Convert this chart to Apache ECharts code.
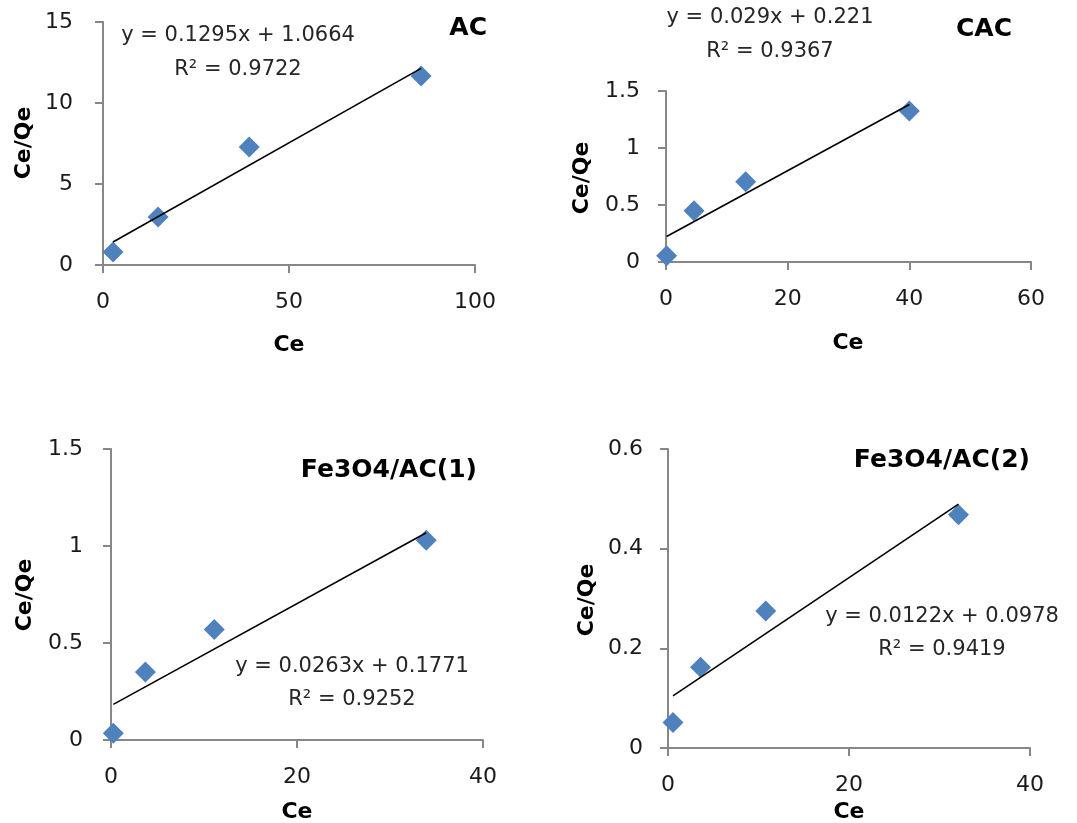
<!DOCTYPE html>
<html>
<head>
<meta charset="utf-8">
<title>Ce/Qe vs Ce</title>
<script src="https://cdn.jsdelivr.net/npm/echarts@6.0.0/dist/echarts.min.js"></script>
<style>
  html, body { margin: 0; padding: 0; background: #fff; }
  #chart { width: 1077px; height: 823px; }
</style>
</head>
<body>
<div id="chart"></div>
<script>
// --- data ---
const acCe = [2.7, 14.8, 39.3, 85.5];
const acRatio = [0.80, 2.96, 7.28, 11.67];

const cacCe = [0.1, 4.6, 13.1, 40.0];
const cacRatio = [0.055, 0.45, 0.705, 1.325];

const fe1Ce = [0.25, 3.7, 11.1, 33.9];
const fe1Ratio = [0.035, 0.35, 0.57, 1.03];

const fe2Ce = [0.55, 3.6, 10.8, 32.1];
const fe2Ratio = [0.051, 0.162, 0.275, 0.468];

// trendline equations printed on each panel: [slope, intercept]
const acFit = [0.1295, 1.0664];
const cacFit = [0.029, 0.221];
const fe1Fit = [0.0263, 0.1771];
const fe2Fit = [0.0122, 0.0978];

const panelNames = ['AC', 'CAC', 'Fe3O4/AC(1)', 'Fe3O4/AC(2)'];
const fitTexts = [
    ['y = 0.1295x + 1.0664', 'R\u00b2 = 0.9722'],
    ['y = 0.029x + 0.221', 'R\u00b2 = 0.9367'],
    ['y = 0.0263x + 0.1771', 'R\u00b2 = 0.9252'],
    ['y = 0.0122x + 0.0978', 'R\u00b2 = 0.9419']
];
const xMax = [100, 60, 40, 40];
const xStep = [50, 20, 20, 20];
const yMax = [15, 1.5, 1.5, 0.6];
const yStep = [5, 0.5, 0.5, 0.2];

const FONT = '"DejaVu Sans", sans-serif';
const AXIS_GRAY = '#878787';
const BLUE = '#4F81BD';

// panel layout (pixels)
const grids = [
    { left: 103, top: 22, width: 372, height: 243 },
    { left: 666, top: 91, width: 365, height: 171 },
    { left: 111, top: 449, width: 372, height: 291 },
    { left: 668, top: 449, width: 362, height: 299 }
];
const yLabelMargin = [30, 26, 28, 25];

// text positions: equation centre, panel name (right edge), axis names
const eqPos = [[238, 36, 70], [770, 18, 52], [352, 667, 700], [942, 617, 650]];
const namePos = [[487, 28], [1012, 29], [477, 470], [1030, 460]];
const yNamePos = [[24, 143], [582, 178], [25, 595], [587, 600]];
const xNamePos = [[289, 345], [848, 343], [297, 812], [849, 812]];

function pairs(xs, ys) {
    return xs.map((x, i) => [x, ys[i]]);
}

function fitLine(xs, fit) {
    const lo = Math.min(...xs), hi = Math.max(...xs);
    return [[lo, fit[0] * lo + fit[1]], [hi, fit[0] * hi + fit[1]]];
}

const sets = [
    [acCe, acRatio, acFit],
    [cacCe, cacRatio, cacFit],
    [fe1Ce, fe1Ratio, fe1Fit],
    [fe2Ce, fe2Ratio, fe2Fit]
];

const xAxes = [], yAxes = [], series = [], graphics = [];

sets.forEach(([xs, ys, fit], i) => {
    xAxes.push({
        type: 'value', gridIndex: i, min: 0, max: xMax[i], interval: xStep[i],
        axisLine: { lineStyle: { color: AXIS_GRAY, width: 2 } },
        axisTick: { show: true, length: 8, lineStyle: { color: AXIS_GRAY, width: 2 } },
        axisLabel: { margin: 26, color: '#1a1a1a', fontSize: 22, fontFamily: FONT },
        splitLine: { show: false }
    });
    yAxes.push({
        type: 'value', gridIndex: i, min: 0, max: yMax[i], interval: yStep[i],
        axisLine: { show: true, lineStyle: { color: AXIS_GRAY, width: 2 } },
        axisTick: { show: true, length: 8, lineStyle: { color: AXIS_GRAY, width: 2 } },
        axisLabel: { margin: yLabelMargin[i], color: '#1a1a1a', fontSize: 22, fontFamily: FONT },
        splitLine: { show: false }
    });
    series.push({
        type: 'scatter', xAxisIndex: i, yAxisIndex: i,
        symbol: 'diamond', symbolSize: 21,
        itemStyle: { color: BLUE, opacity: 1 },
        data: pairs(xs, ys),
        z: 2
    });
    series.push({
        type: 'line', xAxisIndex: i, yAxisIndex: i,
        data: fitLine(xs, fit),
        showSymbol: false, symbol: 'none',
        lineStyle: { color: '#000', width: 1.6 },
        silent: true,
        z: 3
    });

    // trendline equation + R2
    graphics.push({
        type: 'text', x: eqPos[i][0], y: eqPos[i][1],
        style: { text: fitTexts[i][0], font: '21px ' + FONT, fill: '#262626', align: 'center', verticalAlign: 'middle' }
    });
    graphics.push({
        type: 'text', x: eqPos[i][0], y: eqPos[i][2],
        style: { text: fitTexts[i][1], font: '21px ' + FONT, fill: '#262626', align: 'center', verticalAlign: 'middle' }
    });
    // panel name
    graphics.push({
        type: 'text', x: namePos[i][0], y: namePos[i][1],
        style: { text: panelNames[i], font: 'bold 25px ' + FONT, fill: '#000', align: 'right', verticalAlign: 'middle' }
    });
    // axis names
    graphics.push({
        type: 'text', x: yNamePos[i][0], y: yNamePos[i][1], rotation: Math.PI / 2,
        style: { text: 'Ce/Qe', font: 'bold 22px ' + FONT, fill: '#000', align: 'center', verticalAlign: 'middle' }
    });
    graphics.push({
        type: 'text', x: xNamePos[i][0], y: xNamePos[i][1],
        style: { text: 'Ce', font: 'bold 22px ' + FONT, fill: '#000', align: 'center', verticalAlign: 'middle' }
    });
});

const myChart = echarts.init(document.getElementById('chart'));
myChart.setOption({
    animation: false,
    backgroundColor: '#fff',
    grid: grids,
    xAxis: xAxes,
    yAxis: yAxes,
    series: series,
    graphic: graphics
});

window.addEventListener('resize', () => myChart.resize());
</script>
</body>
</html>
